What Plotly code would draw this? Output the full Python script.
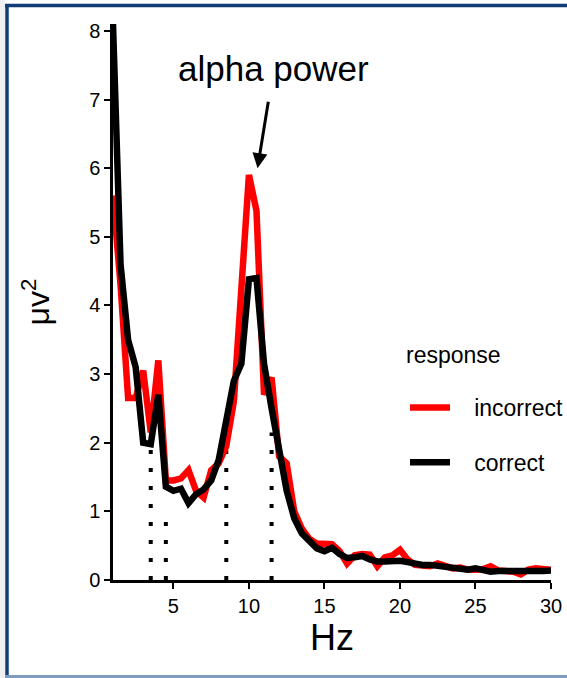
import plotly.graph_objects as go

# ---- data ----
freq = [1.0, 1.5, 2.0, 2.5, 3.0, 3.5, 4.0, 4.5, 5.0, 5.5, 6.0, 6.5, 7.0, 7.5, 8.0, 8.5, 9.0, 9.5,
        10.0, 10.5, 11.0, 11.5, 12.0, 12.5, 13.0, 13.5, 14.0, 14.5, 15.0, 15.5, 16.0, 16.5, 17.0,
        17.5, 18.0, 18.5, 19.0, 19.5, 20.0, 20.5, 21.0, 21.5, 22.0, 22.5, 23.0, 23.5, 24.0, 24.5,
        25.0, 25.5, 26.0, 26.5, 27.0, 27.5, 28.0, 28.5, 29.0, 29.5, 30.0]

correct = [8.1, 4.6, 3.5, 3.1, 2.0, 1.98, 2.7, 1.36, 1.3, 1.33, 1.12, 1.25, 1.32, 1.45, 1.75, 2.3, 2.9, 3.15,
           4.38, 4.4, 3.15, 2.5, 1.85, 1.3, 0.9, 0.68, 0.57, 0.46, 0.42, 0.47, 0.38, 0.32, 0.33,
           0.35, 0.3, 0.27, 0.27, 0.28, 0.28, 0.26, 0.23, 0.22, 0.22, 0.21, 0.18, 0.17, 0.17, 0.15,
           0.17, 0.14, 0.12, 0.13, 0.13, 0.12, 0.11, 0.13, 0.13, 0.13, 0.14]

incorrect = [5.6, 4.3, 2.65, 2.65, 3.05, 2.15, 3.2, 1.45, 1.45, 1.48, 1.6, 1.3, 1.2, 1.6, 1.7, 1.95, 2.6, 4.25,
             5.9, 5.38, 2.7, 2.95, 1.8, 1.7, 1.0, 0.75, 0.6, 0.53, 0.52, 0.52, 0.42, 0.24, 0.36,
             0.38, 0.37, 0.2, 0.33, 0.36, 0.44, 0.3, 0.22, 0.2, 0.2, 0.24, 0.2, 0.17, 0.18, 0.15,
             0.15, 0.16, 0.2, 0.14, 0.13, 0.12, 0.08, 0.15, 0.17, 0.17, 0.15]

band_edges = [3.5, 4.5, 8.5, 11.5]
band_tops = [2.0, 0.9, 2.15, 2.15]

x_ticks = [5, 10, 15, 20, 25, 30]
y_ticks = [0, 1, 2, 3, 4, 5, 6, 7, 8]

FONT = "Liberation Sans, Arial, sans-serif"
NB = "\u00a0\u00a0\u00a0"

W, H = 567, 678
L, R, T, B = 113, 16, 24, 98
PW, PH = W - L - R, H - T - B


def px_x(p):
    return (p - L) / PW


def px_y(p):
    return (H - B - p) / PH


fig = go.Figure()

# dotted band boundaries
for bx, bt in zip(band_edges, band_tops):
    fig.add_trace(go.Scatter(x=[bx, bx], y=[0, bt], mode="lines",
                             line=dict(color="black", width=4, dash="4px,14px"),
                             showlegend=False, hoverinfo="skip"))

fig.add_trace(go.Scatter(x=freq, y=incorrect, mode="lines", name=NB + "incorrect",
                         line=dict(color="#ff0000", width=6.5), legendgroup="a"))
fig.add_trace(go.Scatter(x=freq, y=correct, mode="lines", name=NB + "correct",
                         line=dict(color="black", width=6.5), legendgroup="b"))

fig.update_layout(
    width=W, height=H,
    margin=dict(l=L, r=R, t=T, b=B, autoexpand=False),
    paper_bgcolor="white", plot_bgcolor="white",
    font=dict(family=FONT, color="black"),
    xaxis=dict(range=[1, 30], tickvals=x_ticks, showgrid=False, zeroline=False,
               showline=True, linecolor="black", linewidth=2.5,
               ticks="outside", ticklen=6, tickwidth=2, tickcolor="black",
               tickfont=dict(size=20, color="black"),
               title=dict(text="Hz", font=dict(size=36), standoff=3)),
    yaxis=dict(range=[0, 8.1], tickvals=y_ticks, showgrid=False, zeroline=False,
               showline=True, linecolor="black", linewidth=2.5,
               ticks="outside", ticklen=6, tickwidth=2, tickcolor="black",
               tickfont=dict(size=20, color="black"),
               title=dict(text="μv<sup>2</sup>", font=dict(size=32), standoff=30)),
    legend=dict(x=px_x(405), y=px_y(386), xanchor="left", yanchor="top",
                bgcolor="rgba(0,0,0,0)", font=dict(size=23),
                tracegroupgap=22, itemwidth=40),
    showlegend=True,
)

# legend title
fig.add_annotation(xref="paper", yref="paper", x=px_x(404), y=px_y(355),
                   xanchor="left", yanchor="middle", text="response", showarrow=False,
                   font=dict(size=23, family=FONT, color="black"))

# text label and arrow
fig.add_annotation(x=11.63, y=7.45, text="alpha power", showarrow=False,
                   font=dict(size=35, family=FONT, color="black"))
fig.add_annotation(x=10.57, y=6.0, text="", showarrow=True, ax=11, ay=-68,
                   arrowhead=2, arrowwidth=3, arrowsize=1, arrowcolor="black", standoff=0)

# frame around the picture
fig.add_shape(type="rect", xref="paper", yref="paper",
              x0=px_x(0), x1=px_x(5), y0=px_y(678), y1=px_y(0),
              line=dict(width=0), fillcolor="#f0f0f0", layer="below")
fig.add_shape(type="line", xref="paper", yref="paper",
              x0=px_x(5), x1=px_x(567), y0=px_y(5.5), y1=px_y(5.5),
              line=dict(color="#123c78", width=3.5))
fig.add_shape(type="line", xref="paper", yref="paper",
              x0=px_x(7), x1=px_x(7), y0=px_y(4), y1=px_y(676),
              line=dict(color="#123c78", width=3.5))
fig.add_shape(type="line", xref="paper", yref="paper",
              x0=px_x(5), x1=px_x(567), y0=px_y(676.5), y1=px_y(676.5),
              line=dict(color="#7f9cc0", width=3))

fig.write_html("out.html", config={"displayModeBar": False},
               post_script="document.body.style.margin='0';document.body.style.overflow='hidden';")
